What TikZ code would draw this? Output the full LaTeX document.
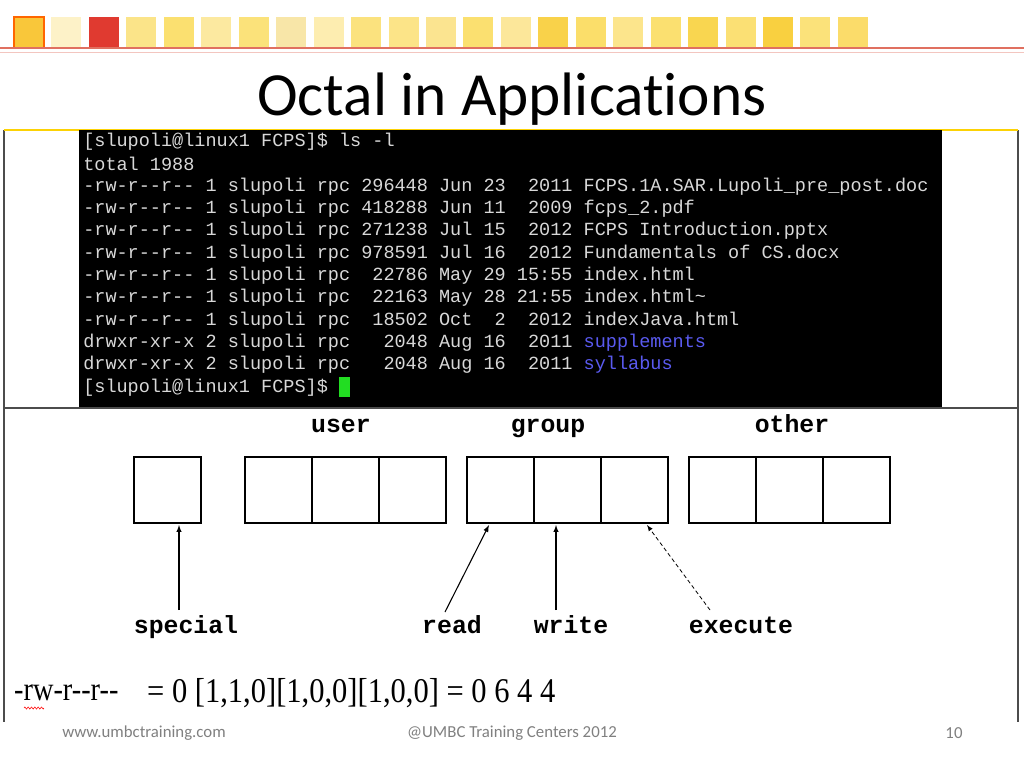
\documentclass[tikz,border=0pt]{standalone}
\usepackage{fontspec}
\setmainfont{Carlito}[Ligatures=NoCommon]
\newfontfamily\mono{Liberation Mono}
\newfontfamily\timesf{Liberation Serif}
\usetikzlibrary{decorations.pathmorphing}
\definecolor{termgray}{HTML}{D8D8D8}
\definecolor{termblue}{HTML}{5A5AF0}
\definecolor{cursorgreen}{HTML}{22DD22}
\definecolor{redline}{HTML}{E07060}
\begin{document}
\begin{tikzpicture}[x=0.75pt,y=-0.75pt,
  tline/.style={anchor=west,inner sep=0pt,text=termgray,font=\mono\fontsize{13.9}{14}\selectfont},
  cell/.style={draw=black,line width=0.9pt,minimum width=50.25pt,minimum height=49.5pt,inner sep=0pt},
  lab/.style={anchor=base,font=\mono\bfseries\fontsize{18.6}{20}\selectfont},
  arr/.style={->,>=latex,line width=0.8pt},
  foot/.style={text=gray,font=\fontsize{12.6}{14}\selectfont}]
\useasboundingbox (0,0) rectangle (1024,768);
\fill[white] (0,0) rectangle (1024,768);
% header squares
\foreach \c [count=\i from 0] in {F9C73A,FDF2C8,E03A30,FBE489,FBE070,FCE9A0,FBE27A,F8E6A8,FDEDB0,FBE27E,FCE488,FBE490,FBE070,FCE79A,F9D24A,FBDE6A,FCE58C,FBE070,F9D650,FBE074,F9D040,FBE27A,FBDC6A}{
  \definecolor{sqc}{HTML}{\c}
  \fill[sqc] ({14+37.45*\i},17) rectangle ++(30,31);
}
\draw[orange!80!red,line width=0.8pt] (14,17) rectangle ++(30,31);
\draw[redline,line width=1.5pt] (0,48) -- (1024,48);
\draw[redline!40,line width=0.6pt] (0,52) -- (1024,52);
\node (title) at (512,99) {\fontsize{46}{50}\selectfont Octal in Applications};
% frame
\draw[black!70,line width=0.9pt] (4,130) -- (4,722) (1018,130) -- (1018,722) (4,408) -- (1018,408);
\draw[yellow!70!orange,line width=1pt] (4,130) -- (1018,130);
% terminal
\fill[black] (79,130) rectangle (942,407);
\foreach \t [count=\i from 0] in {
 {[slupoli@linux1 FCPS]\$ ls -l},
 {total 1988},
 {-rw-r--r-- 1 slupoli rpc 296448 Jun 23~~2011 FCPS.1A.SAR.Lupoli\_pre\_post.doc},
 {-rw-r--r-- 1 slupoli rpc 418288 Jun 11~~2009 fcps\_2.pdf},
 {-rw-r--r-- 1 slupoli rpc 271238 Jul 15~~2012 FCPS Introduction.pptx},
 {-rw-r--r-- 1 slupoli rpc 978591 Jul 16~~2012 Fundamentals of CS.docx},
 {-rw-r--r-- 1 slupoli rpc~~22786 May 29 15:55 index.html},
 {-rw-r--r-- 1 slupoli rpc~~22163 May 28 21:55 index.html\char`~},
 {-rw-r--r-- 1 slupoli rpc~~18502 Oct~~2~~2012 indexJava.html},
 {drwxr-xr-x 2 slupoli rpc~~~2048 Aug 16~~2011 \textcolor{termblue}{supplements}},
 {drwxr-xr-x 2 slupoli rpc~~~2048 Aug 16~~2011 \textcolor{termblue}{syllabus}},
 {[slupoli@linux1 FCPS]\$}}{
  \node[tline] (t\i) at (83,{142+22.3*\i}) {\t};
}
\fill[cursorgreen] (339,377) rectangle (350,397);
% boxes
\node[cell] (sp) at (167.5,490) {};
\foreach \n/\x in {u/245,g/467,o/689}{
  \foreach \k in {1,2,3}{
    \node[cell] (\n\k) at ({\x+33.5+67*(\k-1)},490) {};
  }
}
\node[lab] (user) at (341,432) {user};
\node[lab] (group) at (548,432) {group};
\node[lab] (other) at (792,432) {other};
\node[lab] (special) at (186,633) {special};
\node[lab] (read) at (452,633) {read};
\node[lab] (write) at (571,633) {write};
\node[lab] (execute) at (741,633) {execute};
\coordinate (sps) at (179,610);
\coordinate (rs) at (445,612);
\coordinate (ws) at (556,610);
\coordinate (es) at (710,610);
\draw[arr] (sps) -- (179,525);
\draw[arr] (rs) -- (489,525);
\draw[arr] (ws) -- (556,525);
\draw[arr,densely dashed,line width=0.6pt] (es) -- (647,525);
% formula
\node[anchor=west,inner sep=0pt,xscale=0.85] (perm) at (14,693) {\timesf\fontsize{25}{28}\selectfont -rw-r--r--};
\draw[red,line width=0.4pt,decorate,decoration={zigzag,amplitude=0.8pt,segment length=2.5pt}] (24,708) -- (44,708);
\node[anchor=west,inner sep=0pt,xscale=0.88] (eq) at (147,693) {\timesf\fontsize{26}{28}\selectfont = 0 [1,1,0][1,0,0][1,0,0] = 0 6 4 4};
% footer
\node[foot] (f1) at (144,733) {www.umbctraining.com};
\node[foot] (f2) at (512,733) {@UMBC Training Centers 2012};
\node[foot] (f3) at (954,733) {10};
\end{tikzpicture}
\end{document}
